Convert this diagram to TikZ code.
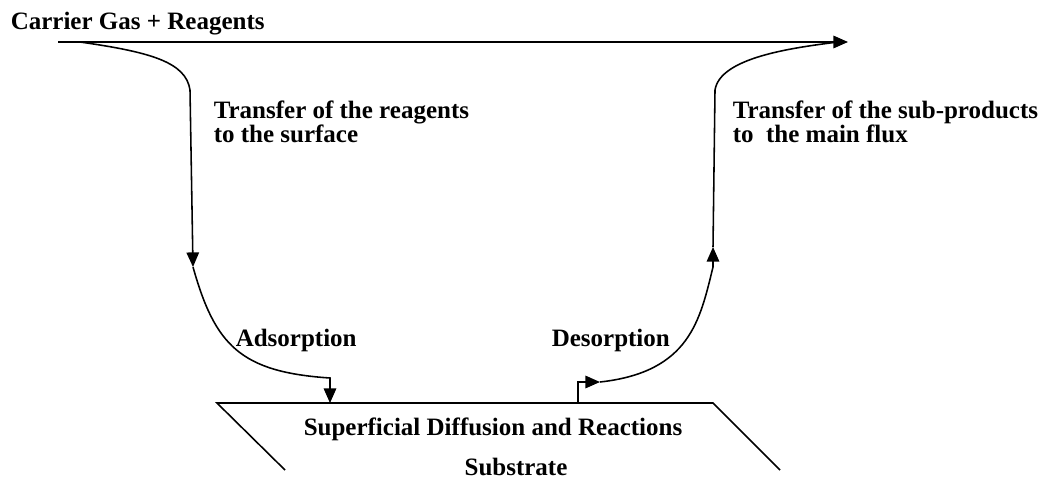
\documentclass[tikz,border=0pt]{standalone}
\usepackage{fontspec}
\setmainfont{Liberation Serif}
\usetikzlibrary{arrows.meta}

\begin{document}
\begin{tikzpicture}[x=0.48pt, y=-0.48pt, line width=0.75pt,
    lbl/.style={font=\fontsize{12}{11.5}\selectfont\bfseries, inner sep=0pt, align=left},
    tip/.style={-{Triangle[length=7pt, width=6pt]}}]
    \useasboundingbox (0,0) rectangle (1044,485);

    % Main flux
    \node[lbl, anchor=base west] (carrier) at (10,29) {Carrier Gas + Reagents};
    \coordinate (in) at (58,42);
    \coordinate (out) at (848,42);
    \draw[tip] (in) -- (out);

    % Substrate
    \coordinate (sl) at (217,403);
    \coordinate (sr) at (713,403);
    \coordinate (bl) at (285,470);
    \coordinate (br) at (780,470);
    \draw (bl) -- (sl) -- (sr) -- (br);
    \node[lbl, anchor=base] (diff) at (493,435) {Superficial Diffusion and Reactions};
    \node[lbl, anchor=base] (sub) at (516,475) {Substrate};

    % Way down
    \coordinate (a0) at (80,42);
    \coordinate (a1) at (193,267);
    \coordinate (a2) at (330,378);
    \coordinate (a3) at (330,403);
    \draw[tip] (a0) .. controls (150,52) and (186,62) .. (190,90) -- (a1);
    \draw[tip] (a1) .. controls (215,345) and (240,372) .. (a2) -- (a3);
    \node[lbl, anchor=base west] (trin) at (213,142) {Transfer of the reagents\\to the surface};
    \node[lbl, anchor=base west] (ads) at (235,346) {Adsorption};

    % Way up
    \coordinate (d0) at (578,403);
    \coordinate (d1) at (600,382);
    \coordinate (d2) at (713,247);
    \draw[tip] (d0) -- (578,382) -- (d1);
    \draw[tip] (d1) .. controls (690,372) and (700,320) .. (713,267) -- (d2);
    \draw (d2) -- (715,90) .. controls (720,58) and (790,48) .. (838,42);
    \node[lbl, anchor=base west] (trout) at (732,142) {Transfer of the sub-products\\to\ \ the main flux};
    \node[lbl, anchor=base west] (des) at (551,346) {Desorption};
\end{tikzpicture}
\end{document}
